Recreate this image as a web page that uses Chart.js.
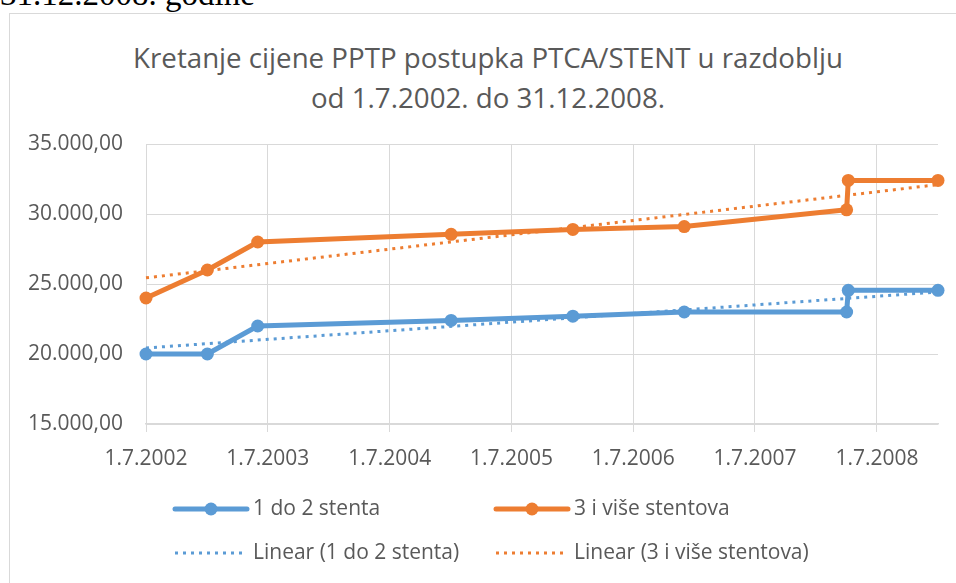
<!DOCTYPE html>
<html>
<head>
<meta charset="utf-8">
<script src="https://cdn.jsdelivr.net/npm/chart.js@4.4.1/dist/chart.umd.min.js"></script>
<style>
  html, body { margin: 0; padding: 0; background: #fff; overflow: hidden; }
  #wrap { position: relative; width: 956px; height: 583px; }
  #above { position: absolute; left: 0; top: -22px; font: 33px/32px "Liberation Serif", serif; color: #000; white-space: nowrap; }
  #frame { position: absolute; left: 9px; top: 13px; width: 1000px; height: 700px; border: 1px solid #d9d9d9; }
  #title { position: absolute; left: 0; top: 37px; width: 976px; text-align: center; font: 27.7px/40px "Open Sans", sans-serif; color: #595959; }
  canvas { position: absolute; left: 0; top: 0; }
</style>
</head>
<body>
<div id="wrap">
  <div id="above">31.12.2008. godine</div>
  <div id="frame"></div>
  <div id="title">Kretanje cijene PPTP postupka PTCA/STENT u razdoblju<br>od 1.7.2002. do 31.12.2008.</div>
  <canvas id="myChart" width="956" height="583"></canvas>
</div>
<script>
// dates of the price changes (d.m.yyyy)
const dates = ['1.7.2002', '1.1.2003', '1.6.2003', '1.1.2005', '1.1.2006', '1.12.2006', '1.4.2008', '6.4.2008', '31.12.2008'];
const stent12 = [20000, 20000, 22000, 22400, 22700, 23000, 23000, 24550, 24550];
const stent3 = [24000, 26000, 28000, 28550, 28900, 29100, 30300, 32400, 32400];

// linear trendlines, read at both ends
const trendDates = ['1.7.2002', '31.12.2008'];
const trend12 = [20430, 24430];
const trend3 = [25440, 32100];

const tickLabels = ['1.7.2002', '1.7.2003', '1.7.2004', '1.7.2005', '1.7.2006', '1.7.2007', '1.7.2008'];
const seriesNames = ['1 do 2 stenta', '3 i više stentova', 'Linear (1 do 2 stenta)', 'Linear (3 i više stentova)'];

const blue = '#5b9bd5';
const orange = '#ed7d31';
const textColor = '#595959';
const gridColor = '#d9d9d9';

function toTime(s) {
    const p = s.split('.');
    return Date.UTC(+p[2], +p[1] - 1, +p[0]);
}

function fmt(v) {
    const s = String(Math.round(v)).replace(/\B(?=(\d{3})+(?!\d))/g, '.');
    return s + ',00';
}

function points(ds, vals) {
    return ds.map((d, i) => ({ x: toTime(d), y: vals[i] }));
}

const legendPlugin = {
    id: 'excelLegend',
    afterDraw(chart) {
        const ctx = chart.ctx;
        const items = [
            { x: 175, y: 509, color: blue, dotted: false },
            { x: 496, y: 509, color: orange, dotted: false },
            { x: 175, y: 553, color: blue, dotted: true },
            { x: 496, y: 553, color: orange, dotted: true }
        ];
        ctx.save();
        items.forEach((it, i) => {
            ctx.strokeStyle = it.color;
            ctx.beginPath();
            if (it.dotted) {
                ctx.lineWidth = 3;
                ctx.setLineDash([3, 5]);
                ctx.lineCap = 'butt';
                ctx.moveTo(it.x, it.y);
                ctx.lineTo(it.x + 72, it.y);
                ctx.stroke();
            } else {
                ctx.lineWidth = 5;
                ctx.setLineDash([]);
                ctx.lineCap = 'round';
                ctx.moveTo(it.x, it.y);
                ctx.lineTo(it.x + 72, it.y);
                ctx.stroke();
                ctx.fillStyle = it.color;
                ctx.beginPath();
                ctx.arc(it.x + 36, it.y, 6.5, 0, Math.PI * 2);
                ctx.fill();
            }
            ctx.setLineDash([]);
            ctx.fillStyle = textColor;
            ctx.font = '21px "Open Sans"';
            ctx.textBaseline = 'middle';
            ctx.fillText(seriesNames[i], it.x + 78, it.y);
        });
        ctx.restore();
    }
};

const myChart = new Chart(document.getElementById('myChart'), {
    type: 'line',
    data: {
        datasets: [
            {
                label: seriesNames[2],
                data: points(trendDates, trend12),
                borderColor: blue,
                borderWidth: 3,
                borderDash: [3, 5],
                pointRadius: 0,
                clip: false,
                order: 0
            },
            {
                label: seriesNames[3],
                data: points(trendDates, trend3),
                borderColor: orange,
                borderWidth: 3,
                borderDash: [3, 5],
                pointRadius: 0,
                clip: false,
                order: 0
            },
            {
                label: seriesNames[0],
                data: points(dates, stent12),
                borderColor: blue,
                backgroundColor: blue,
                borderWidth: 5,
                pointRadius: 6.5,
                pointBorderWidth: 0,
                clip: false,
                order: 1
            },
            {
                label: seriesNames[1],
                data: points(dates, stent3),
                borderColor: orange,
                backgroundColor: orange,
                borderWidth: 5,
                pointRadius: 6.5,
                pointBorderWidth: 0,
                clip: false,
                order: 1
            }
        ]
    },
    options: {
        responsive: false,
        animation: false,
        layout: { padding: { left: 0, right: 18, top: 144, bottom: 109 } },
        plugins: {
            legend: { display: false },
            title: { display: false },
            tooltip: { enabled: false }
        },
        scales: {
            x: {
                type: 'linear',
                min: toTime(trendDates[0]),
                max: toTime(trendDates[1]),
                afterBuildTicks(axis) {
                    axis.ticks = tickLabels.map(t => ({ value: toTime(t) }));
                },
                afterFit(axis) { axis.height = 50; },
                grid: { color: gridColor, lineWidth: 1, tickLength: 8, drawTicks: true },
                border: { color: gridColor, width: 1.5 },
                ticks: {
                    color: textColor,
                    font: { family: 'Open Sans', size: 21 },
                    padding: 14,
                    maxRotation: 0,
                    autoSkip: false,
                    callback(v) {
                        const i = tickLabels.findIndex(t => toTime(t) === v);
                        return i >= 0 ? tickLabels[i] : '';
                    }
                }
            },
            y: {
                min: 15000,
                max: 35000,
                afterFit(axis) { axis.width = 146; },
                grid: { color: gridColor, lineWidth: 1, drawTicks: false },
                border: { display: false },
                ticks: {
                    stepSize: 5000,
                    color: textColor,
                    font: { family: 'Open Sans', size: 21 },
                    padding: 23,
                    callback: v => fmt(v)
                }
            }
        }
    },
    plugins: [legendPlugin]
});
</script>
</body>
</html>
